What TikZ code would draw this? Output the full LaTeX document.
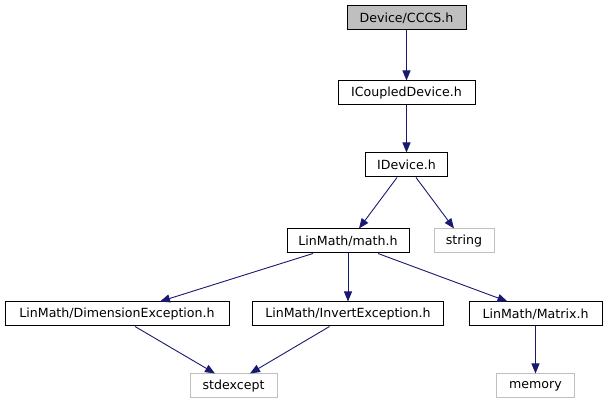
\documentclass[tikz,border=0pt]{standalone}
\usepackage{fontspec}
\setmainfont{DejaVu Sans}
\usetikzlibrary{arrows.meta}
\definecolor{edgeblue}{HTML}{191970}
\definecolor{extgray}{HTML}{BFBFBF}
\tikzset{
  x=1pt,y=1pt,
  hbox/.style={draw=black,line width=1pt,fill=white,minimum height=24pt,inner sep=0pt,font=\fontsize{12.6}{15}\selectfont},
  extbox/.style={hbox,draw=extgray},
  rootbox/.style={hbox,fill=extgray},
  dep/.style={draw=edgeblue,line width=0.9pt,-{Triangle[length=10pt,width=8pt]}}
}
\begin{document}
\begin{tikzpicture}
\useasboundingbox (0,0) rectangle (607,411);
\node[rootbox,minimum width=119pt] (cccs) at (406.5,393) {Device/CCCS.h};
\node[hbox,minimum width=137pt] (icd) at (406.5,318) {ICoupledDevice.h};
\node[hbox,minimum width=82pt] (idev) at (406.5,246) {IDevice.h};
\node[hbox,minimum width=122pt] (math) at (348,170) {LinMath/math.h};
\node[extbox,minimum width=60pt] (string) at (464,170) {string};
\node[hbox,minimum width=224pt] (dim) at (117,97) {LinMath/DimensionException.h};
\node[hbox,minimum width=191pt] (inv) at (348,97) {LinMath/InvertException.h};
\node[hbox,minimum width=133pt] (mat) at (535.5,97) {LinMath/Matrix.h};
\node[extbox,minimum width=87pt] (stdx) at (233.5,25) {stdexcept};
\node[extbox,minimum width=78pt] (mem) at (535.5,25) {memory};
\draw[dep] (cccs.south) -- (icd.north);
\draw[dep] (icd.south) -- (idev.north);
\draw[dep] ([xshift=-9.5pt]idev.south) -- ([xshift=11pt]math.north);
\draw[dep] ([xshift=9.5pt]idev.south) -- ([xshift=-10pt]string.north);
\draw[dep] ([xshift=-35pt]math.south) -- ([xshift=43pt]dim.north);
\draw[dep] (math.south) -- (inv.north);
\draw[dep] ([xshift=30pt]math.south) -- ([xshift=-28pt]mat.north);
\draw[dep] ([xshift=18pt]dim.south) -- ([xshift=-18.5pt]stdx.north);
\draw[dep] ([xshift=-18.5pt]inv.south) -- ([xshift=16.5pt]stdx.north);
\draw[dep] (mat.south) -- (mem.north);
\end{tikzpicture}
\end{document}
